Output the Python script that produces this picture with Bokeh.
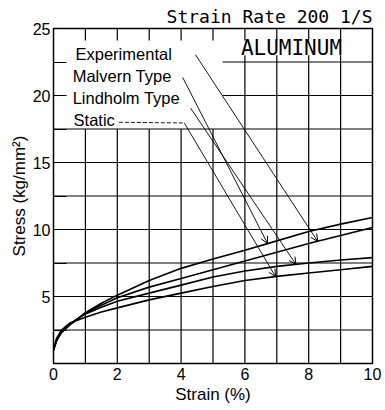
import numpy as np
from bokeh.plotting import figure
from bokeh.models import (FixedTicker, Label, Arrow, OpenHead, Range1d)
from bokeh.embed import file_html
from bokeh.resources import INLINE

# ---- data ----
strain = [0, 0.1, 0.25, 0.5, 1, 1.5, 2, 3, 4, 5, 6, 7, 8, 9, 10]
malvern = [1.0, 1.7, 2.3, 2.85, 3.8, 4.5, 5.1, 6.2, 7.1, 7.8, 8.45, 9.15, 9.85, 10.4, 10.9]
experimental = [1.0, 1.75, 2.35, 2.9, 3.75, 4.35, 4.9, 5.7, 6.35, 7.0, 7.65, 8.3, 8.95, 9.55, 10.15]
lindholm = [1.0, 1.8, 2.4, 2.95, 3.7, 4.2, 4.65, 5.25, 5.85, 6.45, 6.9, 7.25, 7.5, 7.72, 7.9]
static = [1.0, 1.9, 2.5, 3.0, 3.45, 3.85, 4.15, 4.75, 5.25, 5.75, 6.2, 6.5, 6.75, 7.0, 7.25]

x_ticks = [0, 2, 4, 6, 8, 10]
y_ticks = [0, 2.5, 5, 7.5, 10, 12.5, 15, 17.5, 20, 22.5, 25]
y_tick_labels = {5: "5", 10: "10", 15: "15", 20: "20", 25: "25"}
x_grid = [1, 2, 3, 4, 5, 6, 7, 8, 9]
y_grid = [2.5, 5, 7.5, 10, 12.5, 15, 17.5, 20, 22.5]

series_names = ["Experimental", "Malvern Type", "Lindholm Type", "Static"]
series_values = [experimental, malvern, lindholm, static]
arrow_strain = [8.28, 6.71, 7.6, 6.96]

title_text = "Strain Rate 200 1/S"
material = "ALUMINUM"

FONT = "Liberation Sans"
MONO = "DejaVu Sans Mono"

p = figure(width=385, height=410, x_range=Range1d(0, 10), y_range=Range1d(0, 25),
           output_backend="svg", toolbar_location=None,
           min_border_left=53, min_border_right=13, min_border_top=28, min_border_bottom=47,
           x_axis_label="Strain (%)", y_axis_label="Stress (kg/mm\u00b2)")
p.xgrid.visible = False
p.ygrid.visible = False
p.outline_line_color = "black"
p.outline_line_width = 1.5
p.background_fill_color = "white"
p.border_fill_color = "white"

p.title.text = title_text
p.title.align = "right"
p.title.text_font = MONO
p.title.text_font_size = "18px"
p.title.text_font_style = "normal"
p.title.text_color = "black"
p.title.standoff = 4
p.title.offset = 0

# bottom axis
xa = p.xaxis[0]
xa.ticker = FixedTicker(ticks=x_ticks)
xa.major_tick_in = 0
xa.major_tick_out = 0
xa.minor_tick_line_color = None
xa.axis_line_color = "black"
xa.major_label_standoff = 4
xa.axis_label_standoff = 2
xa.major_label_text_font = FONT
xa.major_label_text_font_size = "16px"
xa.major_label_text_color = "black"
xa.axis_label_text_font = FONT
xa.axis_label_text_font_size = "17px"
xa.axis_label_text_font_style = "normal"
xa.axis_label_text_color = "black"

# left axis
ya = p.yaxis[0]
ya.ticker = FixedTicker(ticks=y_ticks)
ya.major_label_overrides = {t: y_tick_labels.get(t, "") for t in y_ticks}
ya.major_tick_in = 13
ya.major_tick_out = 0
ya.major_tick_line_width = 1.2
ya.major_tick_line_color = "black"
ya.minor_tick_line_color = None
ya.axis_line_color = "black"
ya.major_label_standoff = 3
ya.axis_label_standoff = 1
ya.major_label_text_font = FONT
ya.major_label_text_font_size = "16px"
ya.major_label_text_color = "black"
ya.axis_label_text_font = FONT
ya.axis_label_text_font_size = "17px"
ya.axis_label_text_font_style = "normal"
ya.axis_label_text_color = "black"

# top inner ticks
tick_len = 0.9
p.segment(x_grid, [25] * len(x_grid), x_grid, [25 - tick_len] * len(x_grid),
          line_color="black", line_width=1.2)

# grid (leaves the label area blank)
vx0, vy0, vx1, vy1 = [], [], [], []
for gx in x_grid:
    top = 17.5 if gx <= 5 else 23.0
    vx0.append(gx); vy0.append(0); vx1.append(gx); vy1.append(top)
p.segment(vx0, vy0, vx1, vy1, line_color="black", line_width=1.2)
hx0, hy0, hx1, hy1 = [], [], [], []
for gy in y_grid:
    left = 0 if gy <= 17.5 else 5.3
    hx0.append(left); hy0.append(gy); hx1.append(10); hy1.append(gy)
p.segment(hx0, hy0, hx1, hy1, line_color="black", line_width=1.2)

# curves
for vals in series_values:
    p.line(strain, vals, line_color="black", line_width=1.6)

# labels and leaders
label_pos = [(0.69, 23.1), (0.6, 21.45), (0.6, 19.8), (0.63, 18.15)]
leader_start = [(4.45, 23.05), (4.05, 21.35), (4.3, 19.05), (4.1, 17.95)]
for name, (lx, ly) in zip(series_names, label_pos):
    p.add_layout(Label(x=lx, y=ly, text=name, text_font=FONT, text_font_size="16.5px",
                       text_align="left", text_baseline="middle", text_color="black"))

for (sx, sy), ax, vals in zip(leader_start, arrow_strain, series_values):
    ey = float(np.interp(ax, strain, vals))
    p.add_layout(Arrow(end=OpenHead(size=7, line_width=1, line_color="black"),
                       x_start=sx, y_start=sy, x_end=ax, y_end=ey,
                       line_color="black", line_width=0.9))
# dashed lead-in for Static
p.line([2.05, 4.1], [18.0, 17.95], line_color="black", line_width=0.9, line_dash="4 2")

# material name
p.add_layout(Label(x=7.46, y=23.55, text=material, text_font=MONO, text_font_size="21px",
                   text_align="center", text_baseline="middle", text_color="black"))

open("out.html", "w").write(file_html(p, INLINE))
